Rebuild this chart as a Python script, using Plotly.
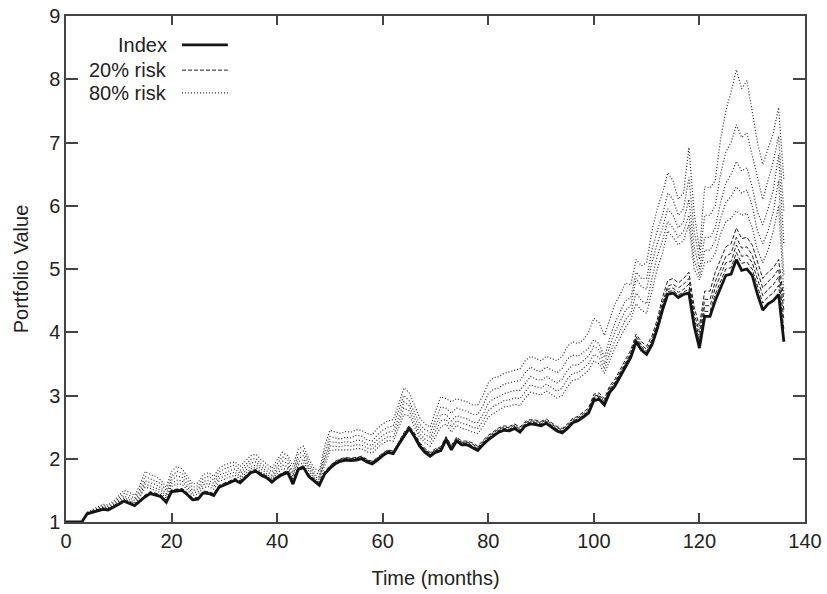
import plotly.graph_objects as go

months = list(range(0, 137))

index_values = [
    1.00, 1.00, 1.00, 1.00, 1.13, 1.15, 1.17, 1.20, 1.19, 1.23,
    1.28, 1.33, 1.30, 1.26, 1.33, 1.40, 1.45, 1.43, 1.40, 1.31,
    1.48, 1.49, 1.50, 1.43, 1.35, 1.36, 1.46, 1.45, 1.42, 1.55,
    1.58, 1.62, 1.66, 1.62, 1.70, 1.78, 1.80, 1.74, 1.70, 1.63,
    1.70, 1.75, 1.78, 1.60, 1.83, 1.86, 1.72, 1.65, 1.58, 1.76,
    1.85, 1.92, 1.96, 1.98, 1.97, 1.98, 2.00, 1.95, 1.92, 1.98,
    2.05, 2.10, 2.08, 2.22, 2.35, 2.48, 2.35, 2.20, 2.10, 2.04,
    2.10, 2.13, 2.30, 2.14, 2.28, 2.22, 2.22, 2.18, 2.13, 2.22,
    2.30, 2.36, 2.42, 2.45, 2.44, 2.48, 2.42, 2.52, 2.55, 2.54,
    2.52, 2.56, 2.50, 2.44, 2.41, 2.48, 2.57, 2.60, 2.66, 2.72,
    2.92, 2.94, 2.85, 3.05, 3.15, 3.30, 3.45, 3.60, 3.85, 3.72,
    3.65, 3.80, 4.05, 4.35, 4.60, 4.62, 4.55, 4.60, 4.62, 4.10,
    3.75, 4.25, 4.25, 4.50, 4.70, 4.90, 4.92, 5.15, 4.98, 5.00,
    4.90, 4.60, 4.35, 4.45, 4.50, 4.60, 3.85,
]

risk20_a = [
    1.00, 1.00, 1.00, 1.00, 1.15, 1.17, 1.19, 1.22, 1.21, 1.25,
    1.30, 1.35, 1.32, 1.28, 1.35, 1.43, 1.48, 1.46, 1.43, 1.34,
    1.51, 1.52, 1.53, 1.46, 1.38, 1.39, 1.49, 1.48, 1.45, 1.58,
    1.61, 1.65, 1.69, 1.65, 1.73, 1.81, 1.83, 1.77, 1.73, 1.66,
    1.73, 1.78, 1.81, 1.68, 1.86, 1.89, 1.75, 1.68, 1.62, 1.80,
    1.89, 1.96, 2.00, 2.02, 2.01, 2.02, 2.04, 1.99, 1.96, 2.02,
    2.09, 2.14, 2.12, 2.26, 2.41, 2.52, 2.41, 2.26, 2.16, 2.10,
    2.16, 2.19, 2.35, 2.21, 2.34, 2.28, 2.28, 2.25, 2.20, 2.29,
    2.37, 2.43, 2.49, 2.52, 2.51, 2.55, 2.50, 2.59, 2.62, 2.61,
    2.59, 2.63, 2.57, 2.51, 2.48, 2.55, 2.64, 2.67, 2.74, 2.80,
    3.02, 3.04, 2.95, 3.15, 3.26, 3.41, 3.56, 3.72, 3.97, 3.85,
    3.78, 3.94, 4.20, 4.55, 4.82, 4.85, 4.78, 4.85, 4.95, 4.40,
    4.10, 4.65, 4.65, 4.95, 5.15, 5.35, 5.40, 5.65, 5.48, 5.50,
    5.38, 5.10, 4.85, 4.95, 5.02, 5.15, 4.50,
]

risk20_b = [
    1.00, 1.00, 1.00, 1.00, 1.14, 1.16, 1.18, 1.21, 1.20, 1.24,
    1.29, 1.34, 1.31, 1.27, 1.34, 1.42, 1.47, 1.45, 1.42, 1.33,
    1.50, 1.51, 1.52, 1.45, 1.37, 1.38, 1.48, 1.47, 1.44, 1.57,
    1.60, 1.64, 1.68, 1.64, 1.72, 1.80, 1.82, 1.76, 1.72, 1.65,
    1.72, 1.77, 1.80, 1.65, 1.85, 1.88, 1.74, 1.67, 1.60, 1.78,
    1.88, 1.95, 1.99, 2.01, 2.00, 2.01, 2.03, 1.98, 1.95, 2.01,
    2.08, 2.13, 2.11, 2.25, 2.39, 2.50, 2.39, 2.24, 2.14, 2.08,
    2.14, 2.17, 2.34, 2.19, 2.32, 2.26, 2.26, 2.23, 2.18, 2.27,
    2.35, 2.41, 2.47, 2.50, 2.49, 2.53, 2.47, 2.57, 2.60, 2.59,
    2.57, 2.61, 2.55, 2.49, 2.46, 2.53, 2.62, 2.65, 2.71, 2.77,
    2.99, 3.01, 2.92, 3.12, 3.22, 3.37, 3.52, 3.67, 3.93, 3.80,
    3.73, 3.88, 4.14, 4.47, 4.73, 4.76, 4.70, 4.76, 4.85, 4.30,
    4.00, 4.52, 4.52, 4.80, 5.00, 5.20, 5.25, 5.50, 5.33, 5.35,
    5.22, 4.95, 4.70, 4.80, 4.88, 5.00, 4.35,
]

risk20_c = [
    1.00, 1.00, 1.00, 1.00, 1.14, 1.16, 1.18, 1.21, 1.20, 1.24,
    1.29, 1.34, 1.31, 1.27, 1.34, 1.41, 1.46, 1.44, 1.41, 1.32,
    1.49, 1.51, 1.51, 1.45, 1.36, 1.38, 1.47, 1.47, 1.43, 1.57,
    1.59, 1.64, 1.67, 1.64, 1.71, 1.80, 1.81, 1.76, 1.71, 1.65,
    1.71, 1.77, 1.79, 1.63, 1.84, 1.88, 1.73, 1.67, 1.59, 1.78,
    1.87, 1.94, 1.98, 2.00, 1.99, 2.00, 2.02, 1.97, 1.94, 2.00,
    2.07, 2.12, 2.10, 2.24, 2.38, 2.50, 2.38, 2.23, 2.13, 2.07,
    2.13, 2.16, 2.33, 2.17, 2.31, 2.25, 2.25, 2.21, 2.16, 2.25,
    2.33, 2.39, 2.45, 2.48, 2.47, 2.51, 2.45, 2.55, 2.58, 2.57,
    2.55, 2.59, 2.53, 2.47, 2.44, 2.51, 2.60, 2.63, 2.69, 2.75,
    2.97, 2.99, 2.90, 3.10, 3.20, 3.35, 3.50, 3.65, 3.90, 3.77,
    3.70, 3.85, 4.10, 4.42, 4.68, 4.70, 4.63, 4.68, 4.76, 4.22,
    3.92, 4.42, 4.42, 4.70, 4.90, 5.10, 5.12, 5.38, 5.20, 5.22,
    5.10, 4.82, 4.58, 4.68, 4.75, 4.88, 4.20,
]

risk20_d = [
    1.00, 1.00, 1.00, 1.00, 1.13, 1.16, 1.17, 1.21, 1.19, 1.24,
    1.28, 1.34, 1.30, 1.27, 1.33, 1.41, 1.45, 1.44, 1.40, 1.32,
    1.49, 1.50, 1.51, 1.44, 1.36, 1.37, 1.47, 1.46, 1.43, 1.56,
    1.59, 1.63, 1.67, 1.63, 1.71, 1.79, 1.81, 1.75, 1.71, 1.64,
    1.71, 1.76, 1.79, 1.62, 1.84, 1.87, 1.73, 1.66, 1.59, 1.77,
    1.86, 1.93, 1.97, 1.99, 1.98, 1.99, 2.01, 1.96, 1.93, 1.99,
    2.06, 2.11, 2.09, 2.23, 2.37, 2.49, 2.37, 2.22, 2.12, 2.06,
    2.12, 2.15, 2.32, 2.16, 2.30, 2.24, 2.24, 2.20, 2.15, 2.24,
    2.32, 2.38, 2.44, 2.47, 2.46, 2.50, 2.44, 2.54, 2.57, 2.56,
    2.54, 2.58, 2.52, 2.46, 2.43, 2.50, 2.59, 2.62, 2.68, 2.74,
    2.95, 2.97, 2.88, 3.08, 3.18, 3.33, 3.48, 3.63, 3.88, 3.75,
    3.68, 3.83, 4.08, 4.39, 4.64, 4.66, 4.59, 4.64, 4.68, 4.15,
    3.85, 4.33, 4.33, 4.60, 4.80, 5.00, 5.02, 5.26, 5.09, 5.11,
    5.00, 4.71, 4.46, 4.56, 4.62, 4.74, 4.05,
]

risk80_a = [
    1.00, 1.00, 1.01, 1.00, 1.15, 1.20, 1.24, 1.28, 1.27, 1.33,
    1.42, 1.50, 1.47, 1.42, 1.58, 1.80, 1.75, 1.72, 1.66, 1.55,
    1.80, 1.88, 1.84, 1.72, 1.60, 1.62, 1.75, 1.78, 1.72, 1.85,
    1.90, 1.93, 1.95, 1.88, 1.97, 2.05, 2.07, 1.98, 1.92, 1.85,
    1.98, 2.10, 2.05, 1.88, 2.15, 2.20, 2.00, 1.85, 1.80, 2.20,
    2.45, 2.42, 2.40, 2.43, 2.42, 2.46, 2.45, 2.40, 2.38, 2.48,
    2.55, 2.60, 2.62, 2.85, 3.12, 3.05, 2.85, 2.65, 2.55, 2.50,
    2.75, 2.98, 2.95, 2.90, 2.95, 2.92, 2.90, 2.85, 2.85, 3.00,
    3.20, 3.28, 3.30, 3.35, 3.38, 3.40, 3.42, 3.55, 3.62, 3.58,
    3.55, 3.62, 3.58, 3.55, 3.62, 3.78, 3.85, 3.82, 3.88, 4.00,
    4.22, 4.15, 3.95, 4.20, 4.45, 4.60, 4.78, 4.75, 5.15, 5.05,
    5.10, 5.60, 5.95, 6.20, 6.52, 6.40, 6.10, 6.20, 6.92, 5.90,
    5.30, 6.30, 6.28, 6.40, 7.05, 7.50, 7.80, 8.15, 7.85, 7.98,
    7.50, 7.00, 6.65, 6.90, 7.15, 7.55, 6.40,
]

risk80_b = [
    1.00, 1.00, 1.00, 1.00, 1.14, 1.18, 1.22, 1.26, 1.25, 1.30,
    1.38, 1.45, 1.42, 1.38, 1.52, 1.72, 1.68, 1.65, 1.60, 1.50,
    1.72, 1.80, 1.77, 1.66, 1.55, 1.57, 1.69, 1.72, 1.66, 1.79,
    1.84, 1.87, 1.90, 1.82, 1.91, 1.99, 2.00, 1.92, 1.86, 1.79,
    1.92, 2.03, 1.99, 1.80, 2.07, 2.12, 1.94, 1.80, 1.75, 2.10,
    2.35, 2.33, 2.31, 2.34, 2.33, 2.37, 2.36, 2.30, 2.28, 2.38,
    2.45, 2.50, 2.52, 2.75, 3.00, 2.92, 2.72, 2.55, 2.46, 2.42,
    2.62, 2.82, 2.80, 2.72, 2.80, 2.77, 2.75, 2.70, 2.70, 2.84,
    3.03, 3.10, 3.12, 3.18, 3.20, 3.22, 3.24, 3.36, 3.45, 3.40,
    3.38, 3.45, 3.40, 3.36, 3.43, 3.58, 3.64, 3.62, 3.68, 3.75,
    3.88, 3.82, 3.60, 3.90, 4.15, 4.32, 4.50, 4.55, 4.95, 4.85,
    4.85, 5.30, 5.60, 5.85, 6.20, 6.10, 5.85, 5.95, 6.45, 5.60,
    5.15, 5.85, 5.85, 6.00, 6.50, 6.85, 7.00, 7.28, 7.08, 7.15,
    6.80, 6.40, 6.10, 6.40, 6.70, 7.10, 5.90,
]

risk80_c = [
    1.00, 1.00, 1.00, 1.00, 1.13, 1.17, 1.20, 1.24, 1.23, 1.28,
    1.35, 1.41, 1.38, 1.34, 1.47, 1.65, 1.62, 1.59, 1.54, 1.45,
    1.66, 1.73, 1.70, 1.60, 1.50, 1.52, 1.64, 1.66, 1.61, 1.74,
    1.78, 1.81, 1.84, 1.77, 1.86, 1.93, 1.95, 1.87, 1.81, 1.74,
    1.86, 1.96, 1.93, 1.76, 2.00, 2.05, 1.88, 1.76, 1.70, 2.02,
    2.27, 2.26, 2.25, 2.27, 2.26, 2.29, 2.29, 2.23, 2.21, 2.30,
    2.37, 2.42, 2.43, 2.65, 2.90, 2.84, 2.64, 2.47, 2.38, 2.34,
    2.52, 2.70, 2.70, 2.60, 2.68, 2.65, 2.63, 2.58, 2.57, 2.70,
    2.88, 2.95, 2.98, 3.03, 3.05, 3.08, 3.08, 3.20, 3.30, 3.26,
    3.24, 3.30, 3.25, 3.20, 3.26, 3.40, 3.48, 3.48, 3.55, 3.62,
    3.78, 3.72, 3.50, 3.78, 4.00, 4.18, 4.35, 4.42, 4.85, 4.72,
    4.68, 5.10, 5.40, 5.65, 5.95, 5.85, 5.65, 5.75, 6.10, 5.35,
    5.00, 5.50, 5.50, 5.65, 6.05, 6.35, 6.50, 6.70, 6.55, 6.60,
    6.30, 5.90, 5.70, 5.95, 6.25, 6.80, 5.40,
]

risk80_d = [
    1.00, 1.00, 1.00, 1.00, 1.13, 1.16, 1.19, 1.23, 1.22, 1.26,
    1.33, 1.38, 1.35, 1.31, 1.43, 1.60, 1.57, 1.54, 1.50, 1.41,
    1.61, 1.66, 1.65, 1.55, 1.46, 1.48, 1.59, 1.61, 1.56, 1.69,
    1.73, 1.76, 1.79, 1.72, 1.81, 1.88, 1.90, 1.83, 1.77, 1.70,
    1.81, 1.90, 1.88, 1.72, 1.95, 1.99, 1.84, 1.73, 1.67, 1.96,
    2.20, 2.20, 2.19, 2.21, 2.20, 2.22, 2.22, 2.17, 2.15, 2.23,
    2.30, 2.35, 2.35, 2.56, 2.80, 2.76, 2.57, 2.40, 2.31, 2.27,
    2.43, 2.60, 2.62, 2.50, 2.60, 2.56, 2.54, 2.50, 2.48, 2.60,
    2.76, 2.83, 2.87, 2.92, 2.93, 2.96, 2.95, 3.07, 3.17, 3.14,
    3.12, 3.18, 3.12, 3.07, 3.12, 3.26, 3.35, 3.36, 3.43, 3.50,
    3.65, 3.60, 3.42, 3.66, 3.86, 4.03, 4.20, 4.30, 4.62, 4.50,
    4.45, 4.85, 5.20, 5.45, 5.75, 5.65, 5.50, 5.60, 5.85, 5.15,
    4.90, 5.30, 5.30, 5.45, 5.80, 6.05, 6.15, 6.30, 6.20, 6.25,
    6.00, 5.60, 5.40, 5.60, 5.90, 6.40, 4.90,
]

risk80_e = [
    1.00, 1.00, 1.00, 1.00, 1.12, 1.15, 1.18, 1.22, 1.21, 1.25,
    1.31, 1.36, 1.33, 1.29, 1.39, 1.55, 1.53, 1.50, 1.46, 1.37,
    1.56, 1.60, 1.60, 1.50, 1.42, 1.44, 1.54, 1.56, 1.52, 1.64,
    1.68, 1.71, 1.74, 1.68, 1.77, 1.84, 1.86, 1.79, 1.74, 1.67,
    1.77, 1.84, 1.84, 1.68, 1.90, 1.94, 1.80, 1.70, 1.64, 1.90,
    2.13, 2.14, 2.14, 2.15, 2.14, 2.16, 2.16, 2.11, 2.09, 2.17,
    2.24, 2.29, 2.28, 2.48, 2.70, 2.68, 2.50, 2.34, 2.25, 2.20,
    2.35, 2.50, 2.55, 2.42, 2.53, 2.48, 2.46, 2.42, 2.40, 2.51,
    2.66, 2.72, 2.77, 2.82, 2.83, 2.86, 2.84, 2.96, 3.05, 3.03,
    3.01, 3.07, 3.01, 2.96, 3.00, 3.14, 3.24, 3.26, 3.33, 3.40,
    3.55, 3.50, 3.35, 3.56, 3.75, 3.92, 4.08, 4.20, 4.45, 4.35,
    4.30, 4.65, 5.00, 5.25, 5.60, 5.50, 5.38, 5.45, 5.70, 5.00,
    4.83, 5.10, 5.12, 5.25, 5.55, 5.75, 5.80, 5.92, 5.85, 5.88,
    5.65, 5.30, 5.10, 5.30, 5.60, 6.00, 4.60,
]

series_20 = [risk20_a, risk20_b, risk20_c, risk20_d]
series_80 = [risk80_a, risk80_b, risk80_c, risk80_d, risk80_e]

legend_labels = ["Index", "20% risk", "80% risk"]

x_ticks = [0, 20, 40, 60, 80, 100, 120, 140]
y_ticks = [1, 2, 3, 4, 5, 6, 7, 8, 9]

FONT = "Liberation Sans, Arial, Helvetica, sans-serif"
TXT = "#222222"

DOT = dict(color="#2a2a2a", width=1.2, dash="1px,2px")
DASH = dict(color="#1e1e1e", width=1, dash="4px,2px")
SOLID = dict(color="#141414", width=2.8)

fig = go.Figure()

for s in series_80:
    fig.add_trace(go.Scatter(x=months, y=s, mode="lines", line=DOT,
                             showlegend=False, hoverinfo="skip"))
for s in series_20:
    fig.add_trace(go.Scatter(x=months, y=s, mode="lines", line=DASH,
                             showlegend=False, hoverinfo="skip"))
fig.add_trace(go.Scatter(x=months, y=index_values, mode="lines", line=SOLID,
                         showlegend=False))

# gnuplot-style key: right-aligned text with line sample to its right
key_rows = [(0.943, SOLID), (0.893, DASH), (0.848, DOT)]
for label, (yy, ln) in zip(legend_labels, key_rows):
    fig.add_annotation(x=0.140, y=yy, xref="paper", yref="paper", text=label,
                       showarrow=False, xanchor="right", yanchor="middle",
                       font=dict(family=FONT, size=20, color=TXT))
    fig.add_shape(type="line", xref="paper", yref="paper",
                  x0=0.157, x1=0.219, y0=yy, y1=yy, line=ln)

axis_common = dict(showgrid=False, zeroline=False, showline=True, linecolor="#444444",
                   linewidth=1.5, mirror="allticks", ticks="inside",
                   tickcolor="#444444", tickwidth=1.5, automargin=False,
                   tickfont=dict(family=FONT, size=20, color=TXT))

fig.update_xaxes(range=[0, 140], tickvals=x_ticks, ticklen=9,
                 title=dict(text="Time (months)", standoff=20,
                            font=dict(family=FONT, size=20, color=TXT)),
                 **axis_common)
fig.update_yaxes(range=[1, 9], tickvals=y_ticks, ticklen=12,
                 title=dict(text="Portfolio Value", standoff=15,
                            font=dict(family=FONT, size=20, color=TXT)),
                 **axis_common)

fig.update_layout(width=827, height=594, margin=dict(l=66, r=22, t=16, b=72),
                  plot_bgcolor="white", paper_bgcolor="white", showlegend=False)

fig.write_html("out.html")
